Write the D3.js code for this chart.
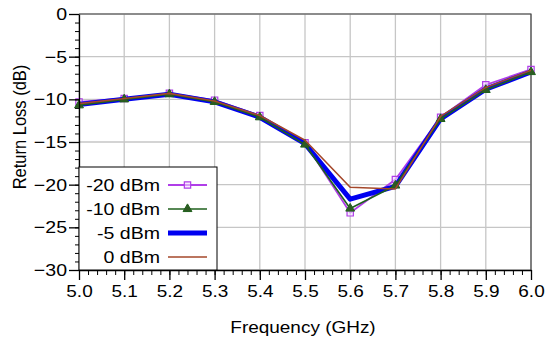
<!DOCTYPE html>
<html>
<head>
<meta charset="utf-8">
<script src="https://cdn.jsdelivr.net/npm/d3@7"></script>
<style>
body { margin: 0; background: #fff; }
text { font-family: "Liberation Sans", Arial, sans-serif; }
</style>
</head>
<body>
<svg id="chart"></svg>
<script>
var freqs = [5.0, 5.1, 5.2, 5.3, 5.4, 5.5, 5.6, 5.7, 5.8, 5.9, 6.0]
var rlMinus20 = [-10.3, -9.9, -9.3, -10.1, -11.9, -15.1, -23.3, -19.4, -12.1, -8.3, -6.5]
var rlMinus10 = [-10.7, -10.0, -9.4, -10.3, -12.1, -15.3, -22.8, -20.1, -12.3, -8.9, -6.8]
var rlMinus5 = [-10.6, -10.0, -9.4, -10.3, -12.1, -15.2, -21.7, -20.2, -12.3, -8.8, -6.8]
var rl0 = [-10.5, -9.9, -9.3, -10.2, -11.9, -14.8, -20.3, -20.5, -12.0, -8.6, -6.6]
var seriesNames = ["-20 dBm", "-10 dBm", "-5 dBm", "0 dBm"]
var xTicks = [5.0, 5.1, 5.2, 5.3, 5.4, 5.5, 5.6, 5.7, 5.8, 5.9, 6.0]
var yTicks = [0, -5, -10, -15, -20, -25, -30]

var dimensions = {
	width: 550,
	height: 345,
	margin: { top: 14, bottom: 75, right: 19, left: 79 }
}
// the original picture is a bit wider than tall, so text is stretched
var stretch = 1.15

var svg = d3.select("#chart")
	.attr("width", dimensions.width)
	.attr("height", dimensions.height)

var xScale = d3.scaleLinear()
	.domain([5, 6])
	.range([dimensions.margin.left, dimensions.width - dimensions.margin.right])

var yScale = d3.scaleLinear()
	.domain([-30, 0])
	.range([dimensions.height - dimensions.margin.bottom, dimensions.margin.top])

var x0 = xScale.range()[0], x1 = xScale.range()[1]
var y0 = yScale.range()[0], y1 = yScale.range()[1]

// grid
svg.append("g")
	.selectAll("line.vg")
	.data(xTicks)
	.enter()
	.append("line")
	.attr("x1", d => xScale(d)).attr("x2", d => xScale(d))
	.attr("y1", y1).attr("y2", y0)
	.style("stroke", "#c6c6c6").style("stroke-width", 1.3)

svg.append("g")
	.selectAll("line.hg")
	.data(yTicks)
	.enter()
	.append("line")
	.attr("x1", x0).attr("x2", x1)
	.attr("y1", d => yScale(d)).attr("y2", d => yScale(d))
	.style("stroke", "#c6c6c6").style("stroke-width", 1.3)

// frame top/right
svg.append("path")
	.attr("d", "M" + x0 + "," + y1 + "H" + x1 + "V" + y0)
	.style("fill", "none").style("stroke", "#444").style("stroke-width", 1.2)

// series
var makeData = vals => freqs.map((f, i) => ({ f: f, v: vals[i] }))
var line = d3.line()
	.x(d => xScale(d.f))
	.y(d => yScale(d.v))

var series = [
	{ name: seriesNames[0], data: makeData(rlMinus20), color: "#b03ee8", width: 1.8, marker: "square" },
	{ name: seriesNames[2], data: makeData(rlMinus5), color: "#0000f0", width: 5, marker: null },
	{ name: seriesNames[1], data: makeData(rlMinus10), color: "#1f601c", width: 1.6, marker: "triangle" },
	{ name: seriesNames[3], data: makeData(rl0), color: "#a4472a", width: 1.6, marker: null }
]

var squareSym = d3.symbol().type(d3.symbolSquare).size(40)
var triSym = d3.symbol().type(d3.symbolTriangle).size(34)

function drawMarkers(g, s, pts) {
	if (s.marker == "square") {
		g.selectAll("path.m")
			.data(pts)
			.enter()
			.append("path")
			.attr("d", squareSym)
			.attr("transform", d => "translate(" + d[0] + "," + d[1] + ")")
			.style("fill", "#f3ddff").style("fill-opacity", 0.6)
			.style("stroke", s.color).style("stroke-width", 1.2)
	}
	if (s.marker == "triangle") {
		g.selectAll("path.m")
			.data(pts)
			.enter()
			.append("path")
			.attr("d", triSym)
			.attr("transform", d => "translate(" + d[0] + "," + d[1] + ")")
			.style("fill", "#2e5a22")
			.style("stroke", s.color).style("stroke-width", 1)
	}
}

series.forEach(function (s) {
	var g = svg.append("g")
	g.append("path")
		.datum(s.data)
		.attr("d", line)
		.style("fill", "none")
		.style("stroke", s.color)
		.style("stroke-width", s.width)
		.style("stroke-linejoin", "round")
	drawMarkers(g, s, s.data.map(d => [xScale(d.f), yScale(d.v)]))
})

// axes
var yMinor = d3.range(-30, 1, 1)
var xMinor = d3.range(0, 51).map(i => 5 + i * 0.02)

svg.append("g")
	.attr("transform", "translate(" + x0 + ",0)")
	.call(d3.axisLeft(yScale).tickValues(yMinor).tickSize(4).tickFormat(""))
	.call(g => g.select(".domain").remove())

svg.append("g")
	.attr("transform", "translate(0," + y0 + ")")
	.call(d3.axisBottom(xScale).tickValues(xMinor).tickSize(5).tickFormat(""))
	.call(g => g.select(".domain").remove())

var yAxis = svg.append("g")
	.attr("transform", "translate(" + x0 + ",0)")
	.call(d3.axisLeft(yScale).tickValues(yTicks).tickSize(10).tickPadding(2).tickSizeOuter(0)
		.tickFormat(d3.format("d")))
yAxis.selectAll("text")
	.style("font-size", "17px").style("fill", "#000")
	.attr("transform", "translate(-12,0) scale(" + stretch + ",1)")
	.attr("x", 0)
yAxis.selectAll("line, path").style("stroke", "#000").style("stroke-width", 1.3)

var xAxis = svg.append("g")
	.attr("transform", "translate(0," + y0 + ")")
	.call(d3.axisBottom(xScale).tickValues(xTicks).tickSize(10).tickPadding(5).tickSizeOuter(0)
		.tickFormat(d3.format(".1f")))
xAxis.selectAll("text")
	.style("font-size", "16.5px").style("fill", "#000")
	.attr("transform", "translate(0,15) scale(" + stretch + ",1)")
	.attr("y", 0)
xAxis.selectAll("line, path").style("stroke", "#000").style("stroke-width", 1.3)

// axis titles
svg.append("text")
	.attr("transform", "translate(" + ((x0 + x1) / 2 - 2) + ",333) scale(" + stretch + ",1)")
	.attr("text-anchor", "middle")
	.style("font-size", "16.5px")
	.text("Frequency (GHz)")

svg.append("text")
	.attr("transform", "translate(26,127) rotate(-90) scale(1," + stretch + ")")
	.attr("text-anchor", "middle")
	.style("font-size", "16.5px")
	.text("Return Loss (dB)")

// legend
var legend = svg.append("g").attr("class", "legend")
legend.append("rect")
	.attr("x", x0).attr("y", 167)
	.attr("width", 138).attr("height", y0 - 167)
	.style("fill", "#fff").style("stroke", "#000").style("stroke-width", 1)

var legendOrder = [series[0], series[2], series[1], series[3]]
legendOrder.forEach(function (s, i) {
	var cy = 185 + i * 24
	legend.append("text")
		.attr("transform", "translate(160," + cy + ") scale(" + stretch + ",1)")
		.attr("dy", "0.35em")
		.attr("text-anchor", "end")
		.style("font-size", "17px")
		.text(s.name)
	var lg = legend.append("g")
	lg.append("line")
		.attr("x1", 168).attr("x2", 207)
		.attr("y1", cy).attr("y2", cy)
		.style("stroke", s.color).style("stroke-width", s.width)
	drawMarkers(lg, s, [[187.5, cy]])
})
</script>
</body>
</html>
